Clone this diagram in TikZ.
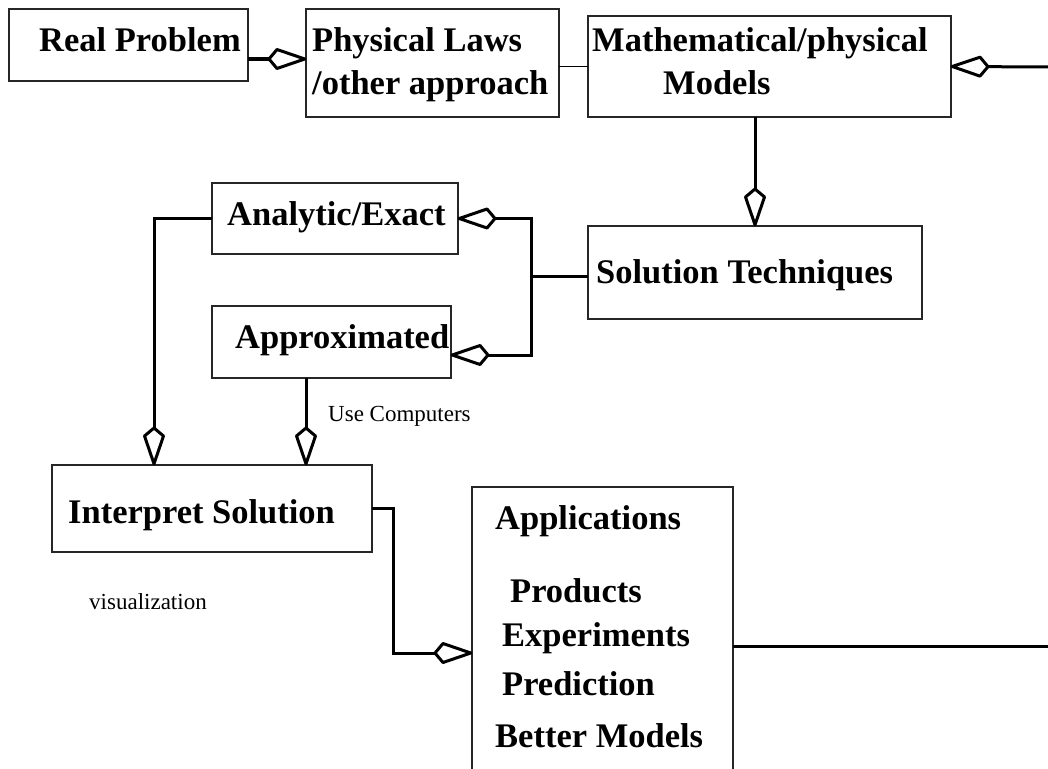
\documentclass[tikz,border=0pt]{standalone}
\usepackage{fontspec}
\setmainfont{Liberation Serif}
\usetikzlibrary{arrows.meta}
\pgfdeclarearrow{
  name = Dia,
  setup code = {
    \pgfarrowssettipend{0pt}
    \pgfarrowssetlineend{-37pt}
    \pgfarrowssetbackend{-38pt}
    \pgfarrowssetvisualbackend{-38pt}
    \pgfarrowshullpoint{0pt}{0pt}
    \pgfarrowshullpoint{-38pt}{10pt}
    \pgfarrowshullpoint{-38pt}{-10pt}
  },
  drawing code = {
    \pgfsetroundjoin
    \pgfpathmoveto{\pgfqpoint{-1.2pt}{0pt}}
    \pgfpathlineto{\pgfqpoint{-29pt}{9.5pt}}
    \pgfpathlineto{\pgfqpoint{-37pt}{0pt}}
    \pgfpathlineto{\pgfqpoint{-29pt}{-9.5pt}}
    \pgfpathclose
    \pgfusepathqstroke
  },
}
\tikzset{
  box/.style={draw=black!85, line width=1.2pt, anchor=north west, inner sep=0pt, outer sep=0pt},
  big/.style={font=\fontsize{34.5}{40}\selectfont\bfseries, anchor=base west, inner sep=0pt},
  small/.style={font=\fontsize{23}{27}\selectfont, anchor=base west, inner sep=0pt},
  conn/.style={line width=3pt},
  agg/.style={conn, -Dia},
  thinline/.style={line width=1.2pt}
}
\begin{document}
\begin{tikzpicture}[x=1pt, y=-1pt]
\useasboundingbox (0,0) rectangle (1048,768);
\clip (0,0) rectangle (1048,768);
% boxes
\node[box, minimum width=239pt, minimum height=72pt]  (rp)  at (9,9) {};
\node[box, minimum width=253pt, minimum height=108pt] (pl)  at (306,9) {};
\node[box, minimum width=363pt, minimum height=101pt] (mm)  at (588,16) {};
\node[box, minimum width=334pt, minimum height=93pt]  (st)  at (588,226) {};
\node[box, minimum width=246pt, minimum height=71pt]  (ae)  at (212,183) {};
\node[box, minimum width=239pt, minimum height=72pt]  (ap)  at (212,306) {};
\node[box, minimum width=320pt, minimum height=87pt]  (is)  at (52,465) {};
\node[box, minimum width=261pt, minimum height=318pt] (app) at (472,487) {};
% texts
\node[big] (trp) at (39,52) {Real Problem};
\node[big] (tpl1) at (312,52) {Physical Laws};
\node[big] (tpl2) at (312,94) {/other approach};
\node[big] (tmm1) at (592,52) {Mathematical/physical};
\node[big] (tmm2) at (663,94) {Models};
\node[big] (tst) at (596,283) {Solution Techniques};
\node[big] (tae) at (227,225) {Analytic/Exact};
\node[big] (tap) at (235,348) {Approximated};
\node[big] (tis) at (68,523) {Interpret Solution};
\node[big] (tapp1) at (495,529) {Applications};
\node[big] (tapp2) at (510,602) {Products};
\node[big] (tapp3) at (502,646) {Experiments};
\node[big] (tapp4) at (502,695) {Prediction};
\node[big] (tapp5) at (495,747) {Better Models};
\node[small] (tuc) at (328,421) {Use Computers};
\node[small] (tvis) at (89,609) {visualization};
% helper coordinates
\coordinate (rt) at (1052,67);
\coordinate (jn) at (531,276);
\coordinate (bend) at (393,653);
% connectors
\draw[agg] ([yshift=-14pt]rp.east) -- ([yshift=-14pt]rp.east -| pl.west);
\draw[thinline] (pl.east |- mm.west) -- (mm.west);
\draw[agg] (rt) -- (mm.east);
\draw[agg] (st.north |- mm.south) -- (st.north);
\draw[conn] ([yshift=-3.5pt]st.west) -- (jn);
\draw[agg] (jn) |- (ae.east);
\draw[agg] (jn) |- ([yshift=-13pt]ap.east);
\draw[agg] (ae.west) -| ([xshift=-58pt]is.north);
\draw[agg] ([xshift=-25.5pt]ap.south) -- ([xshift=-25.5pt]ap.south |- is.north);
\draw[agg] (is.east) -| (bend) -- (bend -| app.west);
\draw[conn] (app.east) -- (app.east -| rt);
\end{tikzpicture}
\end{document}
